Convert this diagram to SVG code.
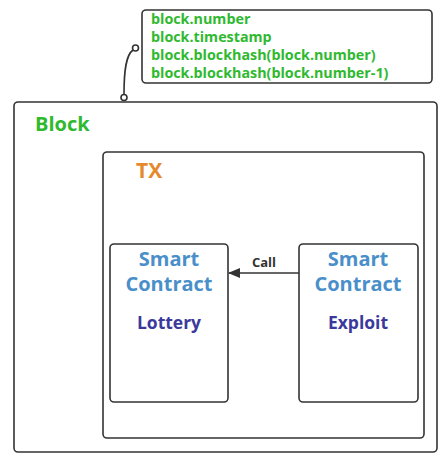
<svg xmlns="http://www.w3.org/2000/svg" width="444" height="456" viewBox="0 0 444 456">
<style>
.box{fill:#fff;stroke:#333;stroke-width:1.6}
.t{font-family:"Open Sans","Noto Sans",sans-serif;font-weight:bold}
.g{fill:#2fb92f;font-size:14.3px}
.sc{fill:#4a8fc9;font-size:20px;text-anchor:middle}
.nm{fill:#3b3a9c;font-size:17.5px;text-anchor:middle}
</style>
<defs>
<marker id="ah" markerWidth="12" markerHeight="10" refX="11" refY="5" orient="auto" markerUnits="userSpaceOnUse">
<path d="M0,0 L12,5 L0,10 Z" fill="#333"/>
</marker>
</defs>
<rect width="444" height="456" fill="#fff"/>
<g id="block"><rect class="box" x="14" y="102" width="423" height="350" rx="4"/>
<text class="t" x="35" y="131" fill="#2fb92f" font-size="20">Block</text></g>
<g id="tx"><rect class="box" x="103" y="152" width="321" height="286" rx="4"/>
<text class="t" x="136" y="178" fill="#e58a2c" font-size="21">TX</text></g>
<g id="lottery"><rect class="box" x="110" y="244" width="118" height="158" rx="4"/>
<text class="t sc" x="169" y="266">Smart</text>
<text class="t sc" x="169" y="291">Contract</text>
<text class="t nm" x="169" y="329">Lottery</text></g>
<g id="exploit"><rect class="box" x="299" y="244" width="119" height="158" rx="4"/>
<text class="t sc" x="358" y="266">Smart</text>
<text class="t sc" x="358" y="291">Contract</text>
<text class="t nm" x="358" y="329">Exploit</text></g>
<g id="note"><rect class="box" x="142" y="10" width="290" height="73" rx="4"/>
<text class="t g" x="151" y="24">block.number</text>
<text class="t g" x="151" y="42">block.timestamp</text>
<text class="t g" x="151" y="60">block.blockhash(block.number)</text>
<text class="t g" x="151" y="78">block.blockhash(block.number-1)</text></g>
<g id="connectors" fill="none" stroke="#333" stroke-width="1.6">
<path d="M124,94 C124,70 126,55 133,50"/>
<circle cx="135.5" cy="48" r="3" fill="#fff"/>
<circle cx="124" cy="97.5" r="3" fill="#fff"/>
<line x1="299" y1="273" x2="229" y2="273" marker-end="url(#ah)"/>
<text class="t" x="264" y="267" fill="#333" stroke="none" font-size="13" text-anchor="middle">Call</text>
</g>
</svg>
